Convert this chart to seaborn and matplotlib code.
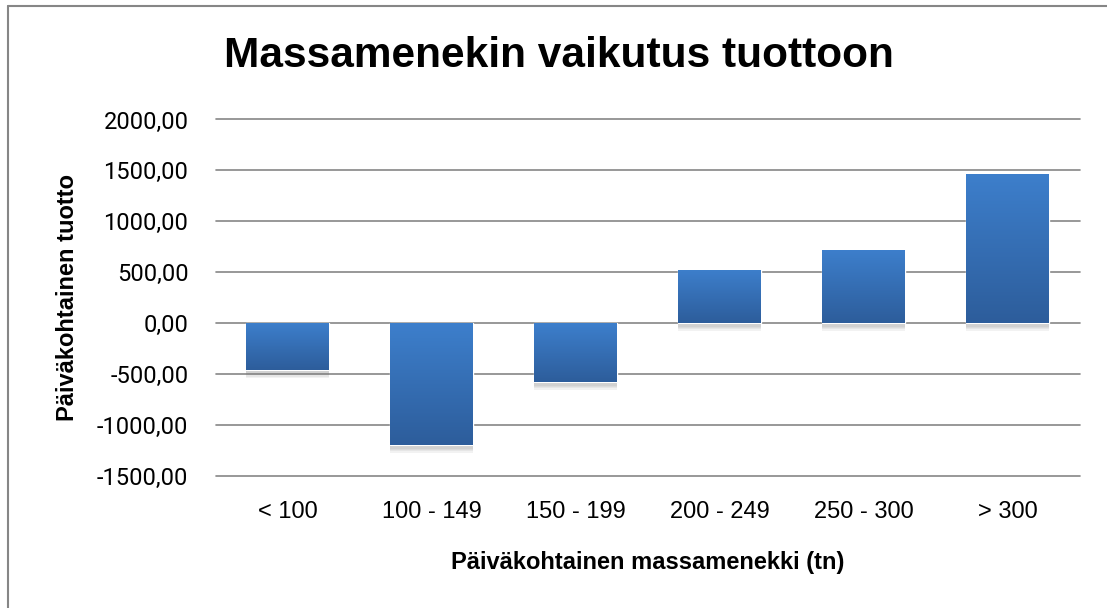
import matplotlib
matplotlib.use("Agg")
import matplotlib.pyplot as plt
import matplotlib.patheffects as pe
from matplotlib.colors import LinearSegmentedColormap
from matplotlib.lines import Line2D
from matplotlib.ticker import FuncFormatter
import numpy as np
import pandas as pd
import seaborn as sns

# Data
kategoriat = ["< 100", "100 - 149", "150 - 199", "200 - 249", "250 - 300", "> 300"]
tuotto = [-462, -1196, -578, 526, 722, 1467]

y_ticks = [-1500, -1000, -500, 0, 500, 1000, 1500, 2000]

otsikko = "Massamenekin vaikutus tuottoon"
x_nimi = "Päiväkohtainen massamenekki (tn)"
y_nimi = "Päiväkohtainen tuotto"

df = pd.DataFrame({"kategoria": kategoriat, "tuotto": tuotto})

sns.set_theme(style="white")
narrow = ["Liberation Sans", "DejaVu Sans"]
plt.rcParams["font.family"] = ["Roboto", "DejaVu Sans"]

fig = plt.figure(figsize=(11.07, 6.08), dpi=100)
ax = fig.add_axes([215.5 / 1107, 132 / 608, 864 / 1107, 356.5 / 608])

sns.barplot(data=df, x="kategoria", y="tuotto", ax=ax, color="#3470B8",
            width=0.576, saturation=1, zorder=3)

# liukuväri palkkeihin + pehmeä varjo
cmap = LinearSegmentedColormap.from_list("palkki", ["#2D5D9B", "#3D7FCC"])
grad = np.linspace(0, 1, 256).reshape(-1, 1)
varjo = [pe.SimplePatchShadow(offset=(0, -d), shadow_rgbFace="#808080", alpha=0.10)
         for d in (1.5, 2.5, 3.5, 4.5, 5.5)]
for p in ax.patches:
    x0 = p.get_x()
    w = p.get_width()
    y0 = min(p.get_y(), p.get_y() + p.get_height())
    y1 = max(p.get_y(), p.get_y() + p.get_height())
    p.set_path_effects(varjo + [pe.Normal()])
    im = ax.imshow(grad, extent=[x0, x0 + w, y0, y1], origin="lower", aspect="auto",
                   cmap=cmap, zorder=4)
    im.set_clip_path(p)

ax.set_xlim(-0.5, len(kategoriat) - 0.5)
ax.set_ylim(-1500, 2000)
ax.set_yticks(y_ticks)
ax.yaxis.set_major_formatter(FuncFormatter(lambda v, pos: f"{v:.2f}".replace(".", ",")))
ax.grid(axis="y", color="#868686", linewidth=1.2, zorder=1)
ax.grid(axis="x", visible=False)
for gl in ax.get_ygridlines():
    gl.set_clip_on(False)
sns.despine(ax=ax, left=True, bottom=True)
ax.tick_params(axis="both", length=0)
ax.tick_params(axis="y", labelsize=17, labelcolor="black", pad=19.5)
ax.tick_params(axis="x", pad=18)
for lab in ax.get_xticklabels():
    lab.set_family(narrow)
    lab.set_fontsize(17)
    lab.set_color("black")

ax.set_xlabel(x_nimi, family=narrow, fontsize=17, fontweight="bold", labelpad=20, color="black")
ax.set_ylabel(y_nimi, family=narrow, fontsize=17, fontweight="bold", labelpad=13, color="black")

fig.text(559 / 1107, 1 - 56 / 608, otsikko, family=narrow, fontsize=30.5, fontweight="bold",
         ha="center", va="center", color="black")

# kaavion reunus
fig.add_artist(Line2D([8 / 1107, 1], [1 - 6 / 608, 1 - 6 / 608], color="#868686", lw=1.5,
                      transform=fig.transFigure))
fig.add_artist(Line2D([8 / 1107, 8 / 1107], [0, 1 - 6 / 608], color="#868686", lw=1.5,
                      transform=fig.transFigure))

fig.savefig("out.png", dpi=100, facecolor="white")
